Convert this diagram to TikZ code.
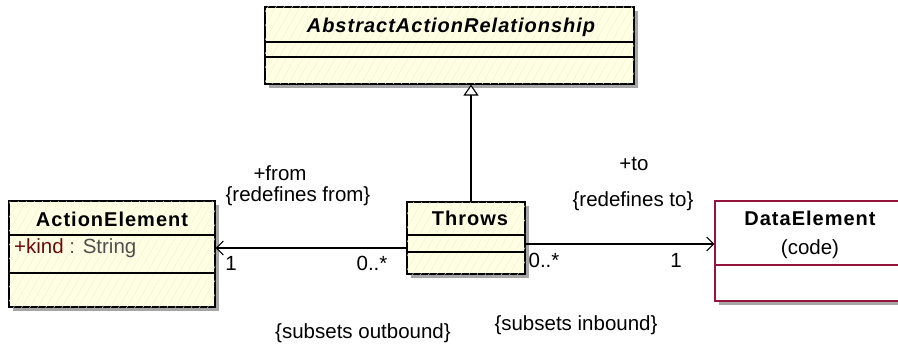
\documentclass[tikz,border=0pt]{standalone}
\usepackage{fontspec}
\setmainfont{Liberation Sans}
\usepackage{tikz}
\usetikzlibrary{positioning, calc, arrows.meta, shadows, patterns.meta}
\definecolor{clsfill}{RGB}{255,255,228}
\definecolor{hatchc}{RGB}{242,240,212}
\definecolor{datared}{RGB}{150,20,60}
\definecolor{attrred}{RGB}{110,10,10}
\definecolor{typegray}{RGB}{80,80,80}

\begin{document}
\begin{tikzpicture}[x=1pt, y=-1pt,
    cls/.style={rectangle, draw=black, line width=1.1pt, fill=clsfill,
        postaction={pattern={Lines[angle=60, distance=7pt, line width=0.4pt]}, pattern color=hatchc},
        drop shadow={shadow xshift=4pt, shadow yshift=-4pt, fill=black!35, opacity=1}},
    dcls/.style={rectangle, draw=datared, line width=1.1pt, fill=white,
        drop shadow={shadow xshift=4pt, shadow yshift=-4pt, fill=black!35, opacity=1}},
    cname/.style={anchor=base, inner sep=0pt, font=\fontsize{20}{24}\selectfont\bfseries\addfontfeatures{LetterSpace=5}},
    lbl/.style={anchor=base, inner sep=0pt, font=\fontsize{20.5}{24}\selectfont},
    assoc/.style={line width=1.1pt, -{Straight Barb[length=7pt, width=14pt, line width=1.1pt]}},
    gen/.style={line width=1.1pt, -{Triangle[open, length=11pt, width=15pt, line width=1.1pt, fill=white]}}
]
\useasboundingbox (0,0) rectangle (898,345);

% classes
\node (aar) [cls, minimum width=369pt, minimum height=77pt] at (449.5,45.5) {};
\node (aarname) [cname, font=\fontsize{20}{24}\selectfont\bfseries\itshape\addfontfeatures{LetterSpace=5}] at (451,33) {AbstractActionRelationship};
\draw [line width=1.1pt] (aar.west |- 0,42) -- (aar.east |- 0,42);
\draw [line width=1.1pt] (aar.west |- 0,57) -- (aar.east |- 0,57);

\node (actel) [cls, minimum width=206pt, minimum height=106pt] at (112,254) {};
\node (actelname) [cname] at (112,226) {ActionElement};
\draw [line width=1.1pt] (actel.west |- 0,235) -- (actel.east |- 0,235);
\draw [line width=1.1pt] (actel.west |- 0,273) -- (actel.east |- 0,273);
\node (kind) [lbl, anchor=base west] at (14,253) {\textcolor{attrred}{+kind} \textcolor{typegray}{: String}};

\node (throws) [cls, minimum width=118pt, minimum height=72pt] at (466,238) {};
\node (throwsname) [cname] at (470,225) {Throws};
\draw [line width=1.1pt] (throws.west |- 0,235) -- (throws.east |- 0,235);
\draw [line width=1.1pt] (throws.west |- 0,252) -- (throws.east |- 0,252);

\node (datael) [dcls, minimum width=190pt, minimum height=100pt] at (810,251) {};
\node (dataname) [cname] at (810,225) {DataElement};
\node (datacode) [lbl] at (810,254) {(code)};
\draw [datared, line width=1.1pt] (datael.west |- 0,265) -- (datael.east |- 0,265);

% connectors
\draw [gen] ([xshift=5pt]throws.north) -- ([xshift=5pt]throws.north |- aar.south);
\draw [assoc] ([yshift=-10pt]throws.west) -- ([yshift=-10pt]throws.west -| actel.east);
\draw [assoc] ([yshift=-6pt]throws.east) -- ([yshift=-6pt]throws.east -| datael.west);

% association labels
\node (fromrole) [lbl] at (280,180) {+from};
\node (fromred) [lbl] at (298,201) {\{redefines from\}};
\node (fromone) [lbl] at (231,270) {1};
\node (frommany) [lbl] at (372,270) {0..*};
\node (fromsub) [lbl] at (363,338) {\{subsets outbound\}};
\node (torole) [lbl] at (634,170) {+to};
\node (tored) [lbl] at (633,206) {\{redefines to\}};
\node (tomany) [lbl] at (544,267) {0..*};
\node (toone) [lbl] at (676,267) {1};
\node (tosub) [lbl] at (576,330) {\{subsets inbound\}};
\end{tikzpicture}
\end{document}
